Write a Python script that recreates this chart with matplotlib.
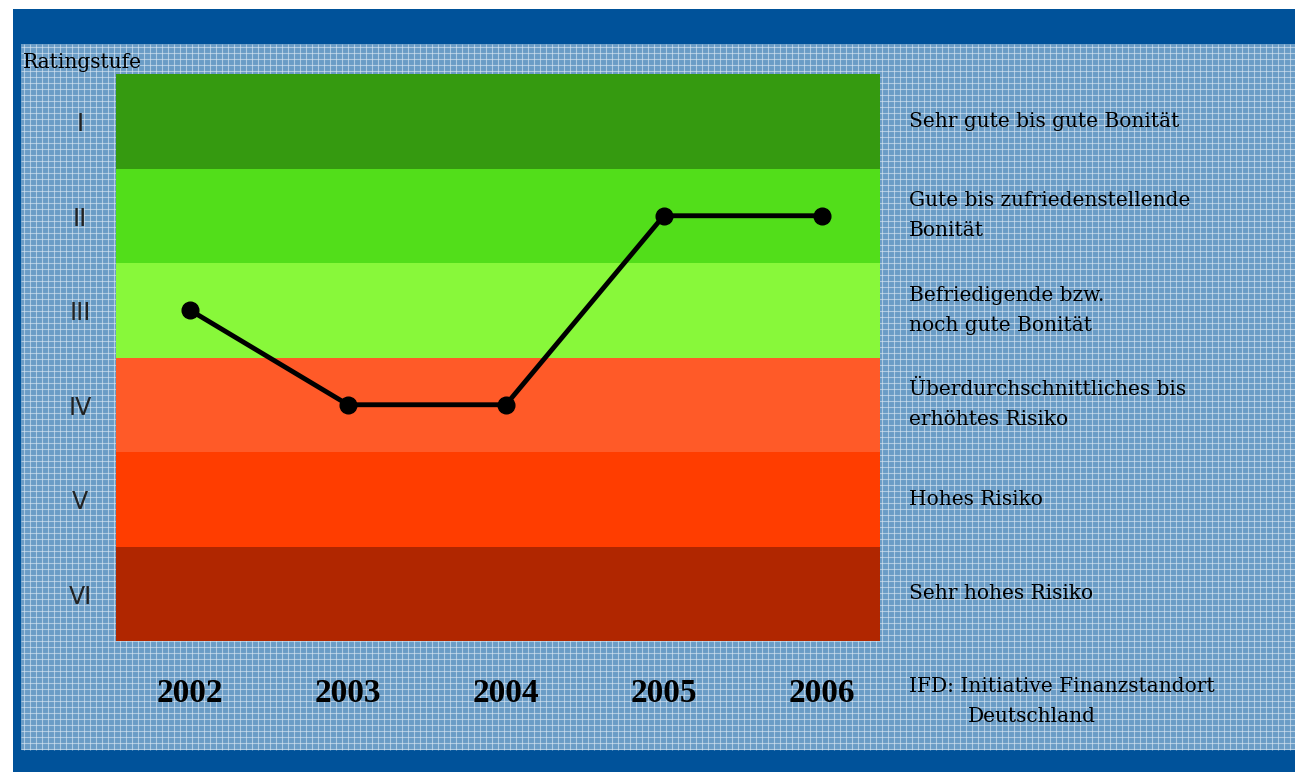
import numpy as np
import matplotlib as mpl
mpl.use('Agg')
import matplotlib.pyplot as plt
from matplotlib.patches import Rectangle

# data
years = [2002, 2003, 2004, 2005, 2006]
rating = [3, 4, 4, 2, 2]
levels = ['I', 'II', 'III', 'IV', 'V', 'VI']
band_colors = ['#359a10', '#52de1a', '#88f83a', '#ff5a28', '#ff3d00', '#b02600']
band_labels = ['Sehr gute bis gute Bonität',
               'Gute bis zufriedenstellende\nBonität',
               'Befriedigende bzw.\nnoch gute Bonität',
               'Überdurchschnittliches bis\nerhöhtes Risiko',
               'Hohes Risiko',
               'Sehr hohes Risiko']

W, H = 1295, 772
fig = plt.figure(figsize=(W / 100, H / 100), dpi=100)

# background frame (pixel coords)
bg = fig.add_axes([0, 0, 1, 1])
bg.set_xlim(0, W)
bg.set_ylim(H, 0)
bg.axis('off')
bg.add_patch(Rectangle((13, 9), W - 13, H - 9, color='#00529a', lw=0))
bg.add_patch(Rectangle((21, 44), W - 21, 706, color='#6a9cc6', lw=0))
gx = np.arange(24, W, 6)
gy = np.arange(47, 750, 6)
bg.vlines(gx, 44, 750, color='#dde9f4', lw=0.8, alpha=0.6)
bg.hlines(gy, 21, W, color='#dde9f4', lw=0.8, alpha=0.6)

# main chart
ax = fig.add_axes([116 / W, 1 - 641 / H, (880 - 116) / W, (641 - 74) / H])
for i, c in enumerate(band_colors):
    ax.axhspan(i + 0.5, i + 1.5, color=c, lw=0)
ax.plot(years, rating, color='black', lw=3.5, marker='o', ms=12, zorder=3)
ax.set_xlim(2001.53, 2006.37)
ax.set_ylim(6.5, 0.5)
ax.axis('off')

serif = 'DejaVu Serif'
for i, lab in enumerate(levels):
    ax.text(-0.047, i + 1.03, lab, transform=ax.get_yaxis_transform(), ha='center', va='center',
            fontsize=17, family='DejaVu Sans', color='#222222')
for i, lab in enumerate(band_labels):
    ax.text(1.038, i + 1, lab, transform=ax.get_yaxis_transform(), ha='left', va='center',
            fontsize=14.5, family=serif, linespacing=1.75)
for y in years:
    ax.text(y, -0.092, str(y), transform=ax.get_xaxis_transform(), ha='center', va='center',
            fontsize=24, family='Liberation Serif', fontweight='bold')

fig.text(23 / W, 1 - 62 / H, 'Ratingstufe', ha='left', va='center',
         fontsize=14.5, family=serif)
fig.text(909 / W, 1 - 687 / H, 'IFD: Initiative Finanzstandort', ha='left', va='center',
         fontsize=14.5, family=serif)
fig.text(968 / W, 1 - 717 / H, 'Deutschland', ha='left', va='center',
         fontsize=14.5, family=serif)

fig.savefig('out.png', dpi=100)
